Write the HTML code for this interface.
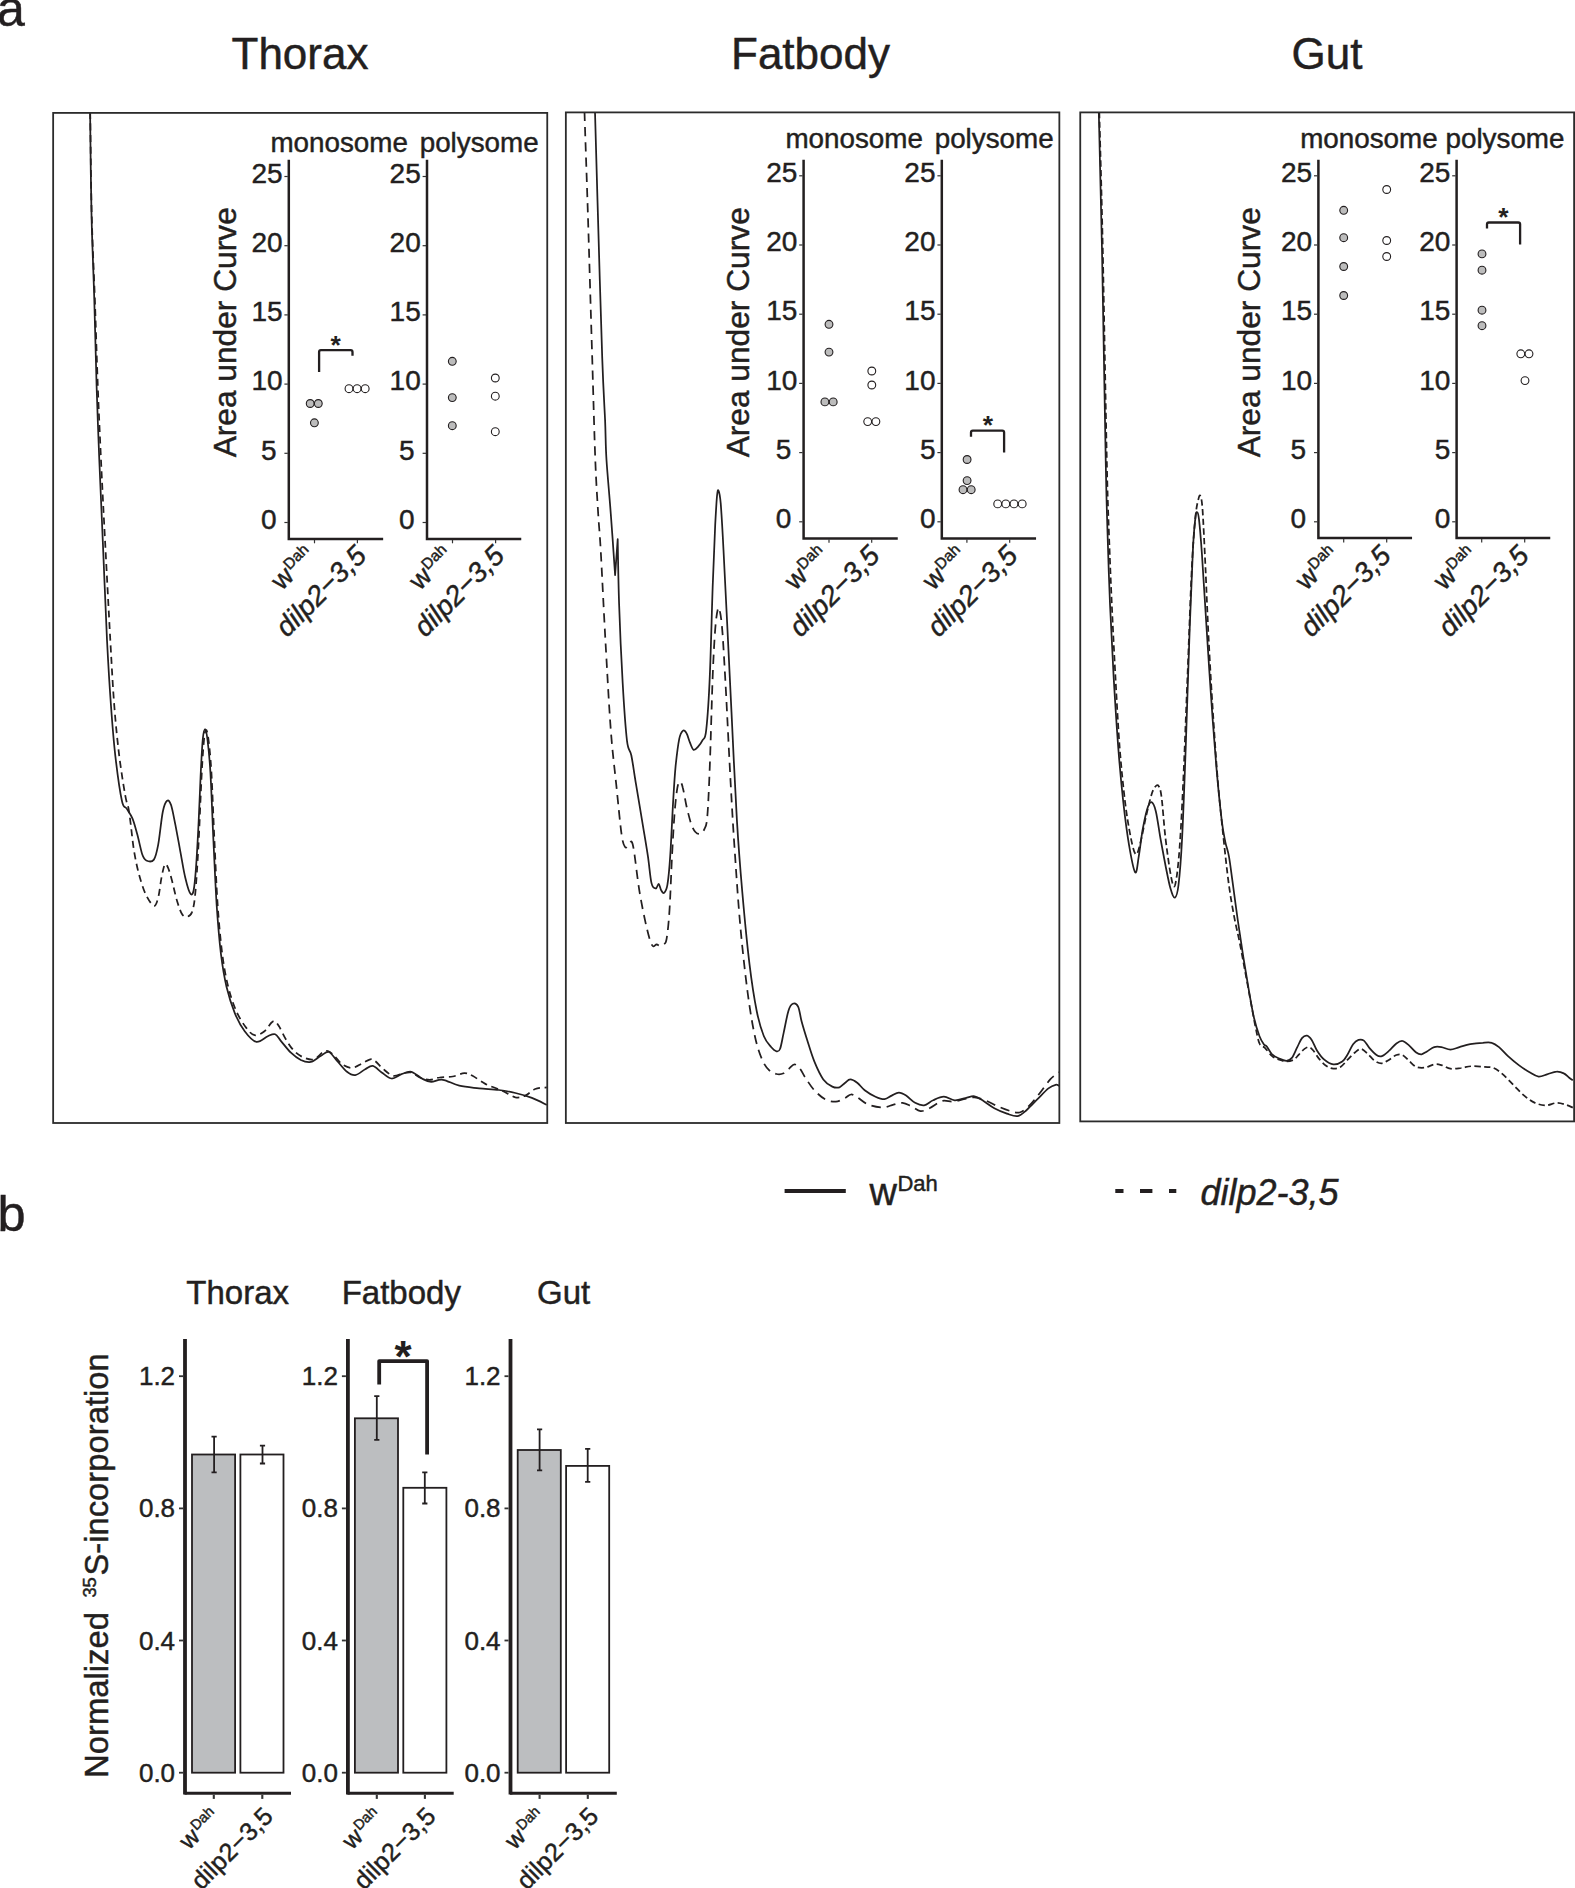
<!DOCTYPE html>
<html lang="en"><head><meta charset="utf-8"><title>Figure</title>
<style>
html,body{margin:0;padding:0;background:#fff;}
body{width:1575px;height:1888px;overflow:hidden;}
svg{display:block;}
text{font-family:"Liberation Sans",sans-serif;fill:#231f20;stroke:#231f20;stroke-width:0.45px;}
.it{font-style:italic;}
.b{font-weight:bold;stroke:none;}
.ax{stroke:#231f20;fill:none;stroke-linecap:square;}
.tk{stroke:#333;fill:none;stroke-width:1.2;}
.cv{stroke:#231f20;fill:none;stroke-width:1.75;stroke-linejoin:round;}
.ds0{stroke-dasharray:7 4.6;}.ds1{stroke-dasharray:9.2 6;}.ds2{stroke-dasharray:6.3 3.4;}
.box{stroke:#2b2b2b;fill:none;stroke-width:1.8;}
.dg{fill:#bcbcbc;stroke:#231f20;stroke-width:1.1;}
.dw{fill:#fff;stroke:#231f20;stroke-width:1.1;}
.br{stroke:#231f20;fill:none;stroke-linejoin:round;stroke-linecap:butt;}
</style></head><body>
<svg width="1575" height="1888" viewBox="0 0 1575 1888">
<rect x="0" y="0" width="1575" height="1888" fill="#fff"/>
<text x="-3" y="25.8" font-size="50">a</text>
<text x="-2.6" y="1230.6" font-size="50.5">b</text>
<text x="300" y="69" font-size="44" text-anchor="middle">Thorax</text>
<text x="810.5" y="69" font-size="44" text-anchor="middle">Fatbody</text>
<text x="1327" y="69" font-size="44" text-anchor="middle">Gut</text>
<clipPath id="cp0"><rect x="53.15" y="112.90" width="494.10" height="1010.10"/></clipPath>
<clipPath id="cp1"><rect x="565.85" y="112.40" width="493.50" height="1010.60"/></clipPath>
<clipPath id="cp2"><rect x="1080.25" y="112.40" width="493.85" height="1009.00"/></clipPath>
<path class="cv" clip-path="url(#cp0)" d="M90.1 112.0C90.3 129.1 90.8 183.0 91.5 214.4C92.2 245.8 93.5 271.6 94.3 300.2C95.1 328.8 95.8 359.8 96.6 386.0C97.4 412.2 98.2 431.4 99.2 457.6C100.2 483.8 101.6 513.0 102.9 543.4C104.2 573.8 105.7 612.9 107.0 640.0C108.4 667.1 109.6 686.8 111.0 706.0C112.4 725.3 113.5 739.8 115.3 755.6C117.1 771.3 120.0 792.0 121.9 800.8C123.8 809.6 124.7 805.5 126.5 808.4C128.3 811.3 130.6 813.9 132.4 818.3C134.3 822.7 135.7 828.7 137.4 834.8C139.0 840.8 140.9 850.3 142.3 854.6C143.8 858.9 144.4 859.7 146.3 860.5C148.2 861.4 151.9 862.2 153.9 859.6C155.9 856.9 156.7 852.7 158.2 844.7C159.7 836.7 161.3 819.0 162.8 811.7C164.3 804.4 165.7 801.9 167.1 800.8C168.5 799.7 169.7 801.1 171.1 805.1C172.4 809.1 173.8 817.2 175.4 824.9C176.9 832.6 178.7 842.5 180.3 851.3C182.0 860.1 183.5 870.6 185.3 877.7C187.0 884.9 189.3 893.1 190.9 894.2C192.4 895.3 193.4 893.7 194.5 884.3C195.7 875.0 196.8 856.8 197.8 838.1C198.9 819.4 200.0 788.6 200.8 772.1C201.6 755.6 202.1 746.2 202.8 739.0C203.5 731.9 204.3 729.1 205.1 729.1C205.8 729.1 206.5 731.9 207.4 739.0C208.3 746.2 209.4 755.6 210.4 772.1C211.4 788.6 212.3 816.1 213.3 838.1C214.4 860.1 215.4 884.9 216.6 904.1C217.9 923.4 219.3 939.9 220.9 953.7C222.6 967.4 224.2 976.8 226.5 986.7C228.9 996.6 231.8 1005.7 234.8 1013.1C237.8 1020.5 241.1 1026.5 244.7 1031.2C248.3 1036.0 252.4 1041.0 256.3 1041.8C260.1 1042.6 264.7 1037.5 267.8 1036.2C270.9 1034.9 272.9 1033.4 275.1 1034.2C277.3 1035.0 278.4 1038.1 281.0 1041.1C283.7 1044.2 287.6 1049.6 290.9 1052.7C294.2 1055.8 297.5 1058.4 300.8 1060.0C304.1 1061.5 307.4 1062.6 310.7 1061.9C314.0 1061.3 317.6 1057.7 320.6 1056.0C323.7 1054.3 326.1 1051.2 328.9 1052.0C331.6 1052.9 334.1 1057.7 337.1 1061.0C340.2 1064.3 344.0 1069.5 347.0 1071.8C350.1 1074.2 352.3 1075.6 355.3 1075.1C358.3 1074.7 362.3 1070.7 365.2 1069.2C368.1 1067.7 370.0 1065.4 372.8 1065.9C375.6 1066.5 378.6 1070.4 381.7 1072.5C384.9 1074.6 388.3 1078.2 391.6 1078.5C394.9 1078.7 398.2 1075.3 401.5 1074.2C404.8 1073.1 407.9 1071.0 411.4 1071.8C415.0 1072.7 419.7 1077.5 423.0 1079.1C426.3 1080.8 427.9 1081.6 431.2 1081.8C434.5 1081.9 438.1 1079.1 442.8 1079.8C447.5 1080.4 453.2 1084.3 459.3 1085.7C465.4 1087.1 472.5 1087.6 479.1 1088.4C485.7 1089.1 492.9 1089.2 498.9 1090.0C505.0 1090.8 509.9 1091.7 515.4 1093.0C520.9 1094.3 526.7 1095.9 531.9 1097.9C537.2 1099.9 544.3 1103.7 546.8 1104.9"/>
<path class="cv ds0" clip-path="url(#cp0)" d="M90.2 112.0C90.5 129.1 90.9 183.0 91.7 214.4C92.5 245.8 93.9 271.6 94.9 300.2C95.9 328.8 96.8 359.8 97.8 386.0C98.8 412.2 99.7 431.4 100.9 457.6C102.1 483.8 103.6 513.0 105.2 543.4C106.8 573.8 108.8 612.9 110.3 640.0C111.8 667.1 112.8 686.8 114.3 706.0C115.8 725.3 117.4 740.7 119.2 755.6C121.1 770.4 123.6 786.4 125.2 795.2C126.7 804.0 127.5 803.4 128.5 808.4C129.4 813.3 129.9 817.7 130.8 824.9C131.7 832.0 132.7 843.0 134.1 851.3C135.5 859.6 137.1 867.3 139.0 874.4C141.0 881.6 143.2 889.0 145.7 894.2C148.1 899.4 151.8 905.2 153.9 905.8C156.0 906.3 156.9 902.2 158.2 897.5C159.5 892.8 160.4 883.2 161.5 877.7C162.6 872.2 163.7 866.2 164.8 864.5C165.9 862.9 166.9 865.1 168.1 867.8C169.3 870.6 170.6 875.5 172.1 881.0C173.5 886.5 175.4 895.3 177.0 900.8C178.7 906.3 180.3 911.4 182.0 914.0C183.6 916.7 185.3 916.9 186.9 916.7C188.6 916.4 190.5 916.1 191.9 912.4C193.2 908.6 194.1 905.5 195.2 894.2C196.3 882.9 197.4 865.1 198.5 844.7C199.6 824.3 200.8 789.7 201.8 772.1C202.7 754.5 203.4 746.1 204.1 739.0C204.8 732.0 205.4 729.8 206.1 729.8C206.8 729.8 207.5 732.0 208.4 739.0C209.3 746.1 210.4 755.6 211.4 772.1C212.3 788.6 213.3 816.1 214.3 838.1C215.4 860.1 216.3 884.9 217.6 904.1C218.9 923.4 220.5 939.9 222.2 953.7C224.0 967.4 225.8 977.0 228.2 986.7C230.6 996.3 233.4 1004.6 236.4 1011.4C239.5 1018.3 243.3 1024.0 246.3 1027.9C249.4 1031.9 251.6 1034.6 254.6 1035.2C257.6 1035.8 261.8 1033.3 264.5 1031.2C267.3 1029.2 269.4 1024.6 271.1 1023.0C272.9 1021.3 273.7 1020.7 275.1 1021.3C276.4 1022.0 277.5 1023.9 279.4 1026.9C281.2 1030.0 283.5 1035.5 286.0 1039.5C288.4 1043.5 291.2 1048.0 294.2 1051.0C297.2 1054.1 300.8 1056.3 304.1 1057.7C307.4 1059.0 311.0 1060.1 314.0 1059.3C317.1 1058.5 320.0 1054.1 322.3 1052.7C324.6 1051.3 326.0 1050.6 327.9 1051.0C329.8 1051.5 331.5 1053.1 333.8 1055.3C336.2 1057.5 339.1 1062.2 342.1 1064.3C345.1 1066.3 348.7 1068.0 352.0 1067.9C355.3 1067.8 358.9 1065.0 361.9 1063.6C364.9 1062.2 368.0 1059.7 370.2 1059.3C372.4 1058.9 372.9 1059.3 375.1 1061.0C377.3 1062.6 380.3 1066.7 383.4 1069.2C386.4 1071.7 390.0 1075.1 393.3 1075.8C396.6 1076.5 400.1 1073.7 403.2 1073.2C406.2 1072.6 408.7 1071.8 411.4 1072.5C414.2 1073.2 416.7 1076.2 419.7 1077.5C422.7 1078.7 426.3 1079.8 429.6 1079.8C432.9 1079.8 435.6 1078.0 439.5 1077.5C443.3 1076.9 448.6 1077.2 452.7 1076.5C456.8 1075.8 461.0 1073.3 464.3 1073.2C467.6 1073.1 468.9 1074.0 472.5 1075.8C476.1 1077.6 480.8 1081.6 485.7 1084.1C490.7 1086.5 497.3 1088.5 502.2 1090.7C507.2 1092.9 511.6 1096.4 515.4 1097.3C519.3 1098.1 522.0 1097.0 525.3 1095.6C528.6 1094.2 531.7 1090.4 535.2 1089.0C538.8 1087.6 544.9 1087.6 546.8 1087.4"/>
<path class="cv" clip-path="url(#cp1)" d="M595.0 112.0C595.5 129.1 596.7 173.5 597.9 214.4C599.1 255.3 601.0 323.1 602.2 357.4C603.4 391.7 604.3 403.3 605.1 420.4C605.8 437.4 605.5 444.4 606.5 460.0C607.5 475.6 609.4 494.8 610.8 514.0C612.3 533.2 614.4 565.0 615.1 575.2L617.7 539.2C617.9 550.0 618.3 580.0 619.1 604.0C619.9 628.1 621.4 660.5 622.7 683.3C624.0 706.1 625.6 728.9 627.0 740.9C628.5 752.9 629.8 748.1 631.3 755.3C632.8 762.5 634.0 772.1 636.0 784.1C638.0 796.1 641.2 815.3 643.2 827.3C645.2 839.3 646.5 846.8 647.9 856.1C649.3 865.4 650.2 877.7 651.5 883.1C652.8 888.5 654.6 888.4 655.8 888.5C657.0 888.7 657.8 883.6 658.7 883.9C659.6 884.2 660.3 888.8 661.2 890.3C662.1 891.8 663.1 893.8 664.1 892.9C665.1 892.0 666.3 891.1 667.4 884.9C668.4 878.8 669.3 869.9 670.2 856.1C671.2 842.3 672.2 817.1 673.1 802.1C674.0 787.1 674.6 776.6 675.6 766.1C676.7 755.6 678.0 745.0 679.2 739.1C680.4 733.2 681.6 731.8 682.8 730.8C684.0 729.8 685.2 731.0 686.4 733.0C687.6 734.9 688.8 739.9 690.0 742.7C691.2 745.5 692.3 749.3 693.6 749.9C695.0 750.5 696.8 747.9 698.3 746.3C699.8 744.7 701.3 742.9 702.6 740.2C704.0 737.5 705.0 740.8 706.2 730.1C707.4 719.4 708.8 700.1 709.8 676.1C710.9 652.1 711.8 611.2 712.7 586.0C713.6 560.8 714.5 539.8 715.2 524.8C716.0 509.8 716.5 501.7 717.0 496.0C717.6 490.3 717.9 489.4 718.5 490.6C719.1 491.8 719.8 493.3 720.7 503.2C721.5 513.1 722.5 530.2 723.5 550.0C724.6 569.8 725.8 595.0 727.1 622.0C728.5 649.1 729.8 679.1 731.5 712.1C733.1 745.1 735.1 790.1 736.9 820.1C738.7 850.1 740.2 868.1 742.3 892.1C744.4 916.1 747.1 944.3 749.5 964.2C751.9 984.0 754.3 999.0 756.7 1011.0C759.1 1023.0 761.5 1030.2 763.9 1036.2C766.3 1042.2 769.0 1044.5 771.1 1047.0C773.2 1049.5 775.0 1051.0 776.5 1051.3C778.0 1051.6 778.9 1051.9 780.1 1048.8C781.3 1045.7 782.3 1038.9 783.7 1032.6C785.1 1026.3 786.9 1015.8 788.4 1011.0C789.9 1006.2 791.1 1004.5 792.7 1003.8C794.3 1003.0 796.6 1003.6 798.1 1006.6C799.6 1009.6 800.2 1016.3 801.7 1021.8C803.2 1027.3 805.0 1033.2 807.1 1039.8C809.2 1046.4 811.6 1054.8 814.3 1061.4C817.0 1068.0 820.3 1075.2 823.3 1079.4C826.3 1083.6 829.6 1085.3 832.3 1086.6C835.0 1087.9 837.4 1087.9 839.5 1087.3C841.6 1086.7 843.1 1084.3 844.9 1083.0C846.7 1081.7 848.2 1079.4 850.3 1079.4C852.4 1079.4 855.1 1081.2 857.5 1083.0C859.9 1084.8 861.7 1087.9 864.7 1090.2C867.7 1092.5 872.2 1095.2 875.5 1096.7C878.8 1098.2 881.8 1099.4 884.5 1099.2C887.2 1099.0 889.3 1096.7 891.7 1095.6C894.1 1094.5 896.5 1092.7 898.9 1092.7C901.3 1092.7 903.4 1093.9 906.1 1095.6C908.8 1097.3 912.1 1101.2 915.1 1102.8C918.1 1104.4 921.1 1105.7 924.1 1105.3C927.1 1104.9 929.8 1101.7 933.1 1100.3C936.4 1098.8 940.3 1096.7 943.9 1096.7C947.5 1096.7 951.1 1100.0 954.7 1100.3C958.3 1100.5 962.2 1098.8 965.5 1098.1C968.8 1097.5 971.5 1095.8 974.5 1096.3C977.5 1096.8 980.2 1099.0 983.5 1101.0C986.8 1103.0 990.4 1106.1 994.3 1108.2C998.2 1110.3 1003.0 1112.3 1006.9 1113.6C1010.8 1114.9 1014.4 1116.7 1017.7 1116.1C1021.0 1115.5 1023.4 1112.8 1026.7 1110.0C1030.0 1107.2 1033.9 1102.8 1037.5 1099.2C1041.1 1095.6 1045.4 1090.8 1048.4 1088.4C1051.4 1086.0 1053.8 1085.2 1055.6 1084.8C1057.4 1084.4 1058.6 1085.7 1059.2 1085.9"/>
<path class="cv ds1" clip-path="url(#cp1)" d="M584.5 112.0C585.0 129.1 586.6 173.5 587.9 214.4C589.2 255.3 590.9 316.5 592.2 357.4C593.4 398.4 594.3 433.9 595.3 460.0C596.3 486.1 597.3 499.0 598.2 514.0C599.1 529.0 599.5 529.0 600.7 550.0C601.9 571.0 603.7 610.0 605.4 640.1C607.1 670.1 609.0 706.1 610.8 730.1C612.6 754.1 614.4 766.7 616.2 784.1C618.0 801.5 620.1 824.0 621.6 834.5C623.1 845.0 624.0 845.4 625.2 847.1C626.4 848.8 627.7 845.5 628.8 844.6C629.9 843.7 630.8 840.4 631.7 841.7C632.6 843.0 632.9 844.1 634.2 852.5C635.5 860.9 637.5 879.5 639.6 892.1C641.7 904.7 644.7 919.3 646.8 928.1C648.9 937.0 650.6 942.7 652.2 945.4C653.9 948.1 655.2 944.2 656.6 944.3C657.9 944.5 659.0 946.1 660.2 946.1C661.4 946.1 662.7 945.5 663.8 944.3C664.8 943.1 665.7 944.6 666.6 938.9C667.6 933.2 668.6 923.9 669.5 910.1C670.4 896.3 671.2 872.3 672.0 856.1C672.9 839.9 673.7 824.3 674.6 812.9C675.5 801.5 676.5 792.9 677.4 787.7C678.3 782.5 679.1 781.6 680.0 781.6C680.9 781.6 681.8 783.7 682.8 787.7C683.9 791.7 685.1 799.7 686.4 805.7C687.8 811.7 689.6 819.3 691.1 823.7C692.6 828.1 693.9 830.3 695.4 832.0C696.9 833.7 698.6 834.3 700.1 833.8C701.6 833.3 703.2 832.0 704.4 829.1C705.6 826.2 706.4 827.0 707.3 816.5C708.2 806.0 708.9 789.5 709.8 766.1C710.7 742.7 711.8 698.9 712.7 676.1C713.6 653.3 714.4 640.4 715.2 629.3C716.1 618.1 717.0 612.4 717.8 609.4C718.6 606.4 719.2 607.3 719.9 611.2C720.7 615.1 721.4 619.0 722.5 632.9C723.5 646.7 724.7 668.9 726.1 694.1C727.4 719.3 729.2 757.1 730.7 784.1C732.2 811.1 733.4 832.1 735.1 856.1C736.7 880.1 738.4 905.3 740.5 928.1C742.6 951.0 745.3 975.0 747.7 993.0C750.1 1011.0 752.5 1025.1 754.9 1036.2C757.3 1047.3 759.7 1053.9 762.1 1059.6C764.5 1065.3 766.9 1068.0 769.3 1070.4C771.7 1072.8 774.1 1073.5 776.5 1074.0C778.9 1074.5 781.6 1074.2 783.7 1073.3C785.8 1072.4 787.3 1070.1 789.1 1068.6C790.9 1067.1 792.7 1064.3 794.5 1064.3C796.3 1064.3 798.1 1066.4 799.9 1068.6C801.7 1070.8 802.9 1074.0 805.3 1077.6C807.7 1081.2 811.0 1086.6 814.3 1090.2C817.6 1093.8 821.5 1097.3 825.1 1099.2C828.7 1101.1 832.6 1101.9 835.9 1101.7C839.2 1101.5 842.4 1099.3 844.9 1098.1C847.4 1096.9 848.9 1094.6 851.0 1094.5C853.1 1094.4 854.6 1095.7 857.5 1097.4C860.4 1099.1 864.1 1102.9 868.3 1104.6C872.5 1106.3 878.5 1107.5 882.7 1107.5C886.9 1107.5 890.2 1105.4 893.5 1104.6C896.8 1103.8 899.5 1102.5 902.5 1102.8C905.5 1103.1 908.5 1105.0 911.5 1106.4C914.5 1107.8 917.5 1110.8 920.5 1111.1C923.5 1111.4 925.9 1109.9 929.5 1108.2C933.1 1106.5 938.2 1102.1 942.1 1101.0C946.0 1099.9 949.3 1102.0 952.9 1101.7C956.5 1101.4 960.1 1099.9 963.7 1099.2C967.3 1098.5 970.9 1097.2 974.5 1097.4C978.1 1097.6 981.4 1098.8 985.3 1100.3C989.2 1101.8 993.7 1104.6 997.9 1106.4C1002.1 1108.2 1006.9 1110.1 1010.5 1111.1C1014.1 1112.1 1016.5 1113.3 1019.5 1112.5C1022.5 1111.7 1025.2 1109.5 1028.5 1106.4C1031.8 1103.3 1035.7 1098.3 1039.3 1093.8C1043.0 1089.3 1046.9 1083.0 1050.2 1079.4C1053.5 1075.8 1057.7 1073.4 1059.2 1072.2"/>
<path class="cv" clip-path="url(#cp2)" d="M1098.8 112.0C1099.3 135.0 1100.9 192.0 1102.0 250.0C1103.1 308.0 1104.8 413.0 1105.7 460.0C1106.6 507.0 1106.8 508.0 1107.5 532.0C1108.2 556.0 1109.0 580.1 1110.0 604.1C1111.0 628.1 1112.2 652.1 1113.6 676.1C1115.0 700.1 1116.7 727.1 1118.3 748.1C1119.9 769.1 1121.5 786.0 1123.3 802.2C1125.1 818.4 1127.1 833.7 1129.1 845.4C1131.1 857.1 1133.6 870.6 1135.2 872.4C1136.9 874.2 1137.6 863.1 1138.8 856.2C1140.0 849.3 1141.1 838.8 1142.4 831.0C1143.8 823.2 1145.6 814.2 1147.1 809.4C1148.6 804.6 1150.0 801.9 1151.4 802.2C1152.9 802.5 1154.3 805.2 1155.8 811.2C1157.3 817.2 1158.8 828.9 1160.4 838.2C1162.1 847.5 1164.2 858.6 1165.8 867.0C1167.5 875.4 1169.0 883.5 1170.5 888.6C1172.0 893.7 1173.5 898.2 1174.9 897.6C1176.2 897.0 1177.3 894.9 1178.5 885.0C1179.7 875.1 1180.9 861.0 1182.1 838.2C1183.3 815.4 1184.5 781.2 1185.7 748.1C1186.9 715.1 1188.1 673.1 1189.3 640.1C1190.5 607.1 1191.8 570.5 1192.9 550.0C1193.9 529.6 1194.7 523.9 1195.4 517.6C1196.1 511.3 1196.6 511.9 1197.2 512.2C1197.8 512.5 1198.2 512.5 1199.0 519.4C1199.8 526.3 1200.7 536.5 1201.9 553.6C1203.1 570.8 1204.7 598.7 1206.2 622.1C1207.7 645.5 1209.2 670.1 1210.9 694.1C1212.5 718.1 1214.5 745.1 1216.3 766.1C1218.1 787.2 1220.2 807.6 1221.7 820.2C1223.2 832.8 1224.1 835.8 1225.3 841.8C1226.5 847.8 1227.7 849.6 1228.9 856.2C1230.1 862.8 1231.0 870.6 1232.5 881.4C1234.0 892.2 1236.1 908.4 1237.9 921.0C1239.7 933.6 1241.5 945.6 1243.3 957.0C1245.1 968.4 1246.9 979.2 1248.7 989.4C1250.5 999.7 1252.3 1010.5 1254.1 1018.3C1255.9 1026.1 1257.9 1031.9 1259.5 1036.3C1261.1 1040.6 1262.6 1042.5 1263.8 1044.2C1265.0 1045.9 1265.3 1044.7 1266.7 1046.4C1268.1 1048.0 1270.0 1052.2 1272.1 1054.3C1274.2 1056.3 1276.9 1057.5 1279.3 1058.6C1281.7 1059.7 1284.4 1060.9 1286.5 1060.8C1288.6 1060.6 1290.1 1060.2 1291.9 1057.9C1293.7 1055.6 1295.6 1050.4 1297.3 1047.1C1299.0 1043.8 1300.4 1040.0 1302.0 1038.1C1303.6 1036.2 1305.4 1035.3 1307.0 1035.6C1308.7 1035.9 1310.0 1037.4 1311.7 1039.9C1313.4 1042.4 1315.0 1047.4 1317.1 1050.7C1319.2 1054.0 1321.6 1057.4 1324.3 1059.7C1327.0 1062.0 1330.3 1064.1 1333.3 1064.4C1336.3 1064.7 1339.9 1063.2 1342.3 1061.5C1344.7 1059.8 1345.9 1057.2 1347.7 1054.3C1349.5 1051.4 1351.3 1046.6 1353.1 1044.2C1354.9 1041.8 1356.7 1040.5 1358.5 1039.9C1360.3 1039.3 1362.1 1039.3 1363.9 1040.6C1365.7 1041.9 1367.2 1045.4 1369.3 1047.8C1371.4 1050.2 1374.4 1053.6 1376.5 1055.0C1378.6 1056.4 1379.8 1056.8 1381.9 1056.1C1384.1 1055.4 1386.8 1052.8 1389.2 1050.7C1391.6 1048.6 1394.1 1045.1 1396.4 1043.5C1398.6 1041.9 1400.4 1040.7 1402.5 1041.0C1404.6 1041.3 1406.7 1043.4 1409.0 1045.3C1411.2 1047.2 1414.1 1051.0 1416.2 1052.5C1418.3 1054.0 1419.8 1054.5 1421.6 1054.3C1423.4 1054.1 1424.9 1052.6 1427.0 1051.4C1429.1 1050.2 1431.8 1047.8 1434.2 1047.1C1436.6 1046.4 1438.7 1046.7 1441.4 1047.1C1444.1 1047.5 1447.4 1049.6 1450.4 1049.6C1453.4 1049.6 1456.1 1048.0 1459.4 1047.1C1462.7 1046.2 1466.3 1044.9 1470.2 1044.2C1474.1 1043.5 1479.2 1043.0 1482.8 1042.8C1486.4 1042.5 1489.1 1042.0 1491.8 1042.8C1494.5 1043.5 1496.3 1044.9 1499.0 1047.1C1501.7 1049.3 1504.7 1053.1 1508.0 1056.1C1511.3 1059.1 1515.2 1062.4 1518.8 1065.1C1522.4 1067.8 1526.3 1070.4 1529.6 1072.3C1532.9 1074.2 1535.6 1076.3 1538.6 1076.6C1541.6 1076.9 1544.6 1074.9 1547.6 1074.1C1550.6 1073.2 1553.9 1071.7 1556.6 1071.6C1559.3 1071.4 1561.7 1072.3 1563.8 1073.4C1565.9 1074.4 1567.7 1076.6 1569.2 1077.7C1570.7 1078.8 1572.2 1079.8 1572.8 1080.2"/>
<path class="cv ds2" clip-path="url(#cp2)" d="M1099.3 112.0C1099.9 135.0 1101.6 192.0 1102.8 250.0C1104.0 308.0 1105.8 413.0 1106.8 460.0C1107.8 507.0 1108.1 508.0 1108.9 532.0C1109.8 556.0 1110.7 580.1 1111.8 604.1C1112.9 628.1 1114.1 652.1 1115.4 676.1C1116.7 700.1 1118.1 727.1 1119.7 748.1C1121.4 769.1 1123.3 787.2 1125.1 802.2C1127.0 817.2 1129.1 829.5 1130.9 838.2C1132.7 846.9 1134.3 853.8 1136.0 854.4C1137.6 855.0 1139.0 848.1 1140.6 841.8C1142.3 835.5 1144.2 824.4 1146.0 816.6C1147.8 808.8 1149.9 799.9 1151.4 795.0C1152.9 790.0 1153.8 788.5 1155.0 787.0C1156.2 785.5 1157.6 784.3 1158.6 786.0C1159.7 787.6 1160.4 788.7 1161.5 796.8C1162.6 804.9 1163.8 822.9 1165.1 834.6C1166.4 846.3 1168.1 858.6 1169.4 867.0C1170.8 875.4 1172.0 882.6 1173.1 885.0C1174.1 887.4 1174.9 887.4 1175.9 881.4C1177.0 875.4 1178.3 865.2 1179.5 849.0C1180.7 832.8 1181.8 813.0 1183.1 784.2C1184.5 755.3 1186.0 712.1 1187.5 676.1C1188.9 640.1 1190.5 594.5 1191.8 568.1C1193.1 541.6 1194.3 529.0 1195.4 517.6C1196.5 506.2 1197.4 503.2 1198.3 499.6C1199.1 496.0 1199.7 494.2 1200.4 496.0C1201.1 497.8 1201.7 498.4 1202.6 510.4C1203.4 522.4 1204.4 545.2 1205.5 568.1C1206.5 590.9 1207.7 622.1 1209.1 647.3C1210.4 672.5 1211.9 696.5 1213.4 719.3C1214.9 742.1 1216.4 764.3 1218.1 784.2C1219.8 804.0 1221.7 821.4 1223.5 838.2C1225.3 855.0 1227.1 871.8 1228.9 885.0C1230.7 898.2 1232.5 907.8 1234.3 917.4C1236.1 927.0 1237.9 933.6 1239.7 942.6C1241.5 951.6 1243.3 961.8 1245.1 971.4C1246.9 981.0 1248.8 991.2 1250.5 1000.3C1252.2 1009.3 1253.7 1018.3 1255.2 1025.5C1256.7 1032.7 1257.9 1039.8 1259.5 1043.5C1261.1 1047.2 1262.8 1045.7 1264.9 1047.8C1267.0 1049.9 1269.7 1054.1 1272.1 1056.1C1274.5 1058.1 1276.9 1058.8 1279.3 1059.7C1281.7 1060.6 1284.1 1061.5 1286.5 1061.5C1288.9 1061.5 1291.6 1060.9 1293.7 1059.7C1295.8 1058.5 1297.3 1056.1 1299.1 1054.3C1300.9 1052.5 1302.8 1050.1 1304.5 1048.9C1306.2 1047.7 1307.7 1046.8 1309.2 1047.1C1310.7 1047.4 1311.9 1048.8 1313.5 1050.7C1315.1 1052.6 1316.8 1056.1 1318.9 1058.6C1321.0 1061.1 1323.7 1064.1 1326.1 1065.8C1328.5 1067.5 1330.9 1068.5 1333.3 1068.7C1335.7 1068.9 1338.1 1068.4 1340.5 1066.9C1342.9 1065.4 1345.3 1062.1 1347.7 1059.7C1350.1 1057.3 1352.7 1054.3 1354.9 1052.5C1357.2 1050.7 1359.0 1048.7 1361.1 1048.9C1363.2 1049.1 1365.3 1051.6 1367.5 1053.6C1369.8 1055.5 1372.3 1059.1 1374.7 1060.8C1377.1 1062.4 1379.5 1063.5 1381.9 1063.3C1384.4 1063.1 1386.8 1061.1 1389.2 1059.7C1391.6 1058.3 1394.1 1055.8 1396.4 1055.0C1398.6 1054.2 1400.4 1054.0 1402.5 1055.0C1404.6 1056.0 1406.7 1058.8 1409.0 1060.8C1411.2 1062.7 1413.5 1065.7 1416.2 1066.9C1418.9 1068.0 1422.2 1068.0 1425.2 1067.6C1428.2 1067.2 1431.5 1064.8 1434.2 1064.4C1436.9 1063.9 1438.7 1064.4 1441.4 1065.1C1444.1 1065.8 1447.1 1068.2 1450.4 1068.7C1453.7 1069.2 1457.6 1068.4 1461.2 1068.0C1464.8 1067.5 1468.1 1066.3 1472.0 1066.2C1475.9 1066.0 1481.0 1066.6 1484.6 1066.9C1488.2 1067.2 1490.6 1066.8 1493.6 1068.0C1496.6 1069.2 1499.3 1071.3 1502.6 1074.1C1505.9 1076.9 1509.8 1081.3 1513.4 1084.9C1517.0 1088.5 1520.6 1092.7 1524.2 1095.7C1527.8 1098.7 1531.4 1101.3 1535.0 1102.9C1538.6 1104.5 1542.2 1105.4 1545.8 1105.4C1549.4 1105.4 1553.3 1103.0 1556.6 1102.9C1559.9 1102.8 1562.9 1103.9 1565.6 1104.7C1568.3 1105.5 1571.6 1107.1 1572.8 1107.6"/>
<rect class="box" x="53.15" y="112.90" width="494.10" height="1010.10"/>
<rect class="box" x="565.85" y="112.40" width="493.50" height="1010.60"/>
<rect class="box" x="1080.25" y="112.40" width="493.85" height="1009.00"/>
<text x="339.2" y="152.0" font-size="27.8" text-anchor="middle">monosome</text>
<text x="479.2" y="152.0" font-size="27.8" text-anchor="middle">polysome</text>
<text transform="translate(235.9 332.3) rotate(-90)" font-size="31.7" text-anchor="middle">Area under Curve</text>
<path class="ax" stroke-width="2.5" d="M288.8 161.1V538.9H381.9"/>
<path class="tk" d="M284.4 522.5H287.8"/>
<text x="268.7" y="528.7" font-size="28.0" text-anchor="middle">0</text>
<path class="tk" d="M284.4 453.3H287.8"/>
<text x="268.7" y="459.5" font-size="28.0" text-anchor="middle">5</text>
<path class="tk" d="M284.4 384.1H287.8"/>
<text x="267.0" y="390.3" font-size="28.0" text-anchor="middle">10</text>
<path class="tk" d="M284.4 314.9H287.8"/>
<text x="267.0" y="321.1" font-size="28.0" text-anchor="middle">15</text>
<path class="tk" d="M284.4 245.7H287.8"/>
<text x="267.0" y="251.9" font-size="28.0" text-anchor="middle">20</text>
<path class="tk" d="M284.4 176.5H287.8"/>
<text x="267.0" y="182.7" font-size="28.0" text-anchor="middle">25</text>
<path class="tk" d="M314.5 539.9V543.3"/>
<path class="tk" d="M357.4 539.9V543.3"/>
<g transform="translate(316.2 556.9) rotate(-45)"><text text-anchor="end" font-size="26.7">w<tspan font-size="15.5" dy="-9.3" dx="1.0">Dah</tspan></text></g>
<g transform="translate(367.9 557.3) rotate(-45)"><text text-anchor="end" font-size="28.0" class="it">dilp2−3,5</text></g>
<path class="ax" stroke-width="2.5" d="M427.0 161.1V538.9H520.0"/>
<path class="tk" d="M422.6 522.5H426.0"/>
<text x="406.9" y="528.7" font-size="28.0" text-anchor="middle">0</text>
<path class="tk" d="M422.6 453.3H426.0"/>
<text x="406.9" y="459.5" font-size="28.0" text-anchor="middle">5</text>
<path class="tk" d="M422.6 384.1H426.0"/>
<text x="405.2" y="390.3" font-size="28.0" text-anchor="middle">10</text>
<path class="tk" d="M422.6 314.9H426.0"/>
<text x="405.2" y="321.1" font-size="28.0" text-anchor="middle">15</text>
<path class="tk" d="M422.6 245.7H426.0"/>
<text x="405.2" y="251.9" font-size="28.0" text-anchor="middle">20</text>
<path class="tk" d="M422.6 176.5H426.0"/>
<text x="405.2" y="182.7" font-size="28.0" text-anchor="middle">25</text>
<path class="tk" d="M452.5 539.9V543.3"/>
<path class="tk" d="M495.6 539.9V543.3"/>
<g transform="translate(454.2 556.9) rotate(-45)"><text text-anchor="end" font-size="26.7">w<tspan font-size="15.5" dy="-9.3" dx="1.0">Dah</tspan></text></g>
<g transform="translate(506.1 557.3) rotate(-45)"><text text-anchor="end" font-size="28.0" class="it">dilp2−3,5</text></g>
<circle class="dg" cx="310.2" cy="403.5" r="3.90"/>
<circle class="dg" cx="318.3" cy="403.5" r="3.90"/>
<circle class="dg" cx="314.4" cy="422.8" r="3.90"/>
<circle class="dw" cx="349.0" cy="388.7" r="3.90"/>
<circle class="dw" cx="357.1" cy="388.7" r="3.90"/>
<circle class="dw" cx="365.2" cy="388.7" r="3.90"/>
<circle class="dg" cx="452.3" cy="361.3" r="3.90"/>
<circle class="dg" cx="452.3" cy="397.6" r="3.90"/>
<circle class="dg" cx="452.3" cy="425.7" r="3.90"/>
<circle class="dw" cx="495.3" cy="378.0" r="3.90"/>
<circle class="dw" cx="495.3" cy="396.2" r="3.90"/>
<circle class="dw" cx="495.3" cy="431.7" r="3.90"/>
<path class="br" stroke-width="2.3" d="M319.1 371.9V352.0Q319.1 350.2 320.9 350.2H350.7Q352.5 350.2 352.5 352.0V355.7"/>
<text class="b" x="335.6" y="353.8" font-size="26.5" text-anchor="middle">*</text>
<text x="854.2" y="148.0" font-size="27.8" text-anchor="middle">monosome</text>
<text x="994.2" y="148.0" font-size="27.8" text-anchor="middle">polysome</text>
<text transform="translate(749.2 332.3) rotate(-90)" font-size="31.7" text-anchor="middle">Area under Curve</text>
<path class="ax" stroke-width="2.5" d="M803.6 161.1V538.4H896.5"/>
<path class="tk" d="M799.2 521.8H802.6"/>
<text x="783.5" y="528.0" font-size="28.0" text-anchor="middle">0</text>
<path class="tk" d="M799.2 452.6H802.6"/>
<text x="783.5" y="458.8" font-size="28.0" text-anchor="middle">5</text>
<path class="tk" d="M799.2 383.4H802.6"/>
<text x="781.8" y="389.6" font-size="28.0" text-anchor="middle">10</text>
<path class="tk" d="M799.2 314.2H802.6"/>
<text x="781.8" y="320.4" font-size="28.0" text-anchor="middle">15</text>
<path class="tk" d="M799.2 245.0H802.6"/>
<text x="781.8" y="251.2" font-size="28.0" text-anchor="middle">20</text>
<path class="tk" d="M799.2 175.8H802.6"/>
<text x="781.8" y="182.0" font-size="28.0" text-anchor="middle">25</text>
<path class="tk" d="M829.0 539.4V542.8"/>
<path class="tk" d="M871.7 539.4V542.8"/>
<g transform="translate(829.8 556.9) rotate(-45)"><text text-anchor="end" font-size="26.7">w<tspan font-size="15.5" dy="-9.3" dx="1.0">Dah</tspan></text></g>
<g transform="translate(881.3 557.3) rotate(-45)"><text text-anchor="end" font-size="28.0" class="it">dilp2−3,5</text></g>
<path class="ax" stroke-width="2.5" d="M941.8 161.1V538.4H1034.8"/>
<path class="tk" d="M937.4 521.8H940.8"/>
<text x="935.5" y="528.0" font-size="28.0" text-anchor="end">0</text>
<path class="tk" d="M937.4 452.6H940.8"/>
<text x="935.5" y="458.8" font-size="28.0" text-anchor="end">5</text>
<path class="tk" d="M937.4 383.4H940.8"/>
<text x="935.5" y="389.6" font-size="28.0" text-anchor="end">10</text>
<path class="tk" d="M937.4 314.2H940.8"/>
<text x="935.5" y="320.4" font-size="28.0" text-anchor="end">15</text>
<path class="tk" d="M937.4 245.0H940.8"/>
<text x="935.5" y="251.2" font-size="28.0" text-anchor="end">20</text>
<path class="tk" d="M937.4 175.8H940.8"/>
<text x="935.5" y="182.0" font-size="28.0" text-anchor="end">25</text>
<path class="tk" d="M966.9 539.4V542.8"/>
<path class="tk" d="M1009.7 539.4V542.8"/>
<g transform="translate(967.7 556.9) rotate(-45)"><text text-anchor="end" font-size="26.7">w<tspan font-size="15.5" dy="-9.3" dx="1.0">Dah</tspan></text></g>
<g transform="translate(1019.3 557.3) rotate(-45)"><text text-anchor="end" font-size="28.0" class="it">dilp2−3,5</text></g>
<circle class="dg" cx="829.0" cy="324.3" r="3.90"/>
<circle class="dg" cx="829.0" cy="352.1" r="3.90"/>
<circle class="dg" cx="824.9" cy="401.9" r="3.90"/>
<circle class="dg" cx="833.2" cy="401.9" r="3.90"/>
<circle class="dw" cx="871.8" cy="371.0" r="3.90"/>
<circle class="dw" cx="871.8" cy="385.0" r="3.90"/>
<circle class="dw" cx="867.7" cy="421.6" r="3.90"/>
<circle class="dw" cx="875.9" cy="421.6" r="3.90"/>
<circle class="dg" cx="967.1" cy="459.5" r="3.90"/>
<circle class="dg" cx="967.1" cy="480.6" r="3.90"/>
<circle class="dg" cx="963.0" cy="489.7" r="3.90"/>
<circle class="dg" cx="971.2" cy="489.7" r="3.90"/>
<circle class="dw" cx="997.7" cy="503.9" r="3.90"/>
<circle class="dw" cx="1005.8" cy="503.9" r="3.90"/>
<circle class="dw" cx="1014.0" cy="503.9" r="3.90"/>
<circle class="dw" cx="1022.2" cy="503.9" r="3.90"/>
<path class="br" stroke-width="2.3" d="M971.0 436.8V432.5Q971.0 430.7 972.8 430.7H1002.3Q1004.1 430.7 1004.1 432.5V452.6"/>
<text class="b" x="988.0" y="434.3" font-size="26.5" text-anchor="middle">*</text>
<text x="1368.9" y="148.0" font-size="27.8" text-anchor="middle">monosome</text>
<text x="1505.0" y="148.0" font-size="27.8" text-anchor="middle">polysome</text>
<text transform="translate(1260.2 332.3) rotate(-90)" font-size="31.7" text-anchor="middle">Area under Curve</text>
<path class="ax" stroke-width="2.5" d="M1318.4 161.1V538.1H1410.8"/>
<path class="tk" d="M1314.0 521.8H1317.4"/>
<text x="1298.3" y="528.0" font-size="28.0" text-anchor="middle">0</text>
<path class="tk" d="M1314.0 452.6H1317.4"/>
<text x="1298.3" y="458.8" font-size="28.0" text-anchor="middle">5</text>
<path class="tk" d="M1314.0 383.4H1317.4"/>
<text x="1296.6" y="389.6" font-size="28.0" text-anchor="middle">10</text>
<path class="tk" d="M1314.0 314.2H1317.4"/>
<text x="1296.6" y="320.4" font-size="28.0" text-anchor="middle">15</text>
<path class="tk" d="M1314.0 245.0H1317.4"/>
<text x="1296.6" y="251.2" font-size="28.0" text-anchor="middle">20</text>
<path class="tk" d="M1314.0 175.8H1317.4"/>
<text x="1296.6" y="182.0" font-size="28.0" text-anchor="middle">25</text>
<path class="tk" d="M1343.7 539.1V542.5"/>
<path class="tk" d="M1386.7 539.1V542.5"/>
<g transform="translate(1340.7 556.9) rotate(-45)"><text text-anchor="end" font-size="26.7">w<tspan font-size="15.5" dy="-9.3" dx="1.0">Dah</tspan></text></g>
<g transform="translate(1392.5 557.3) rotate(-45)"><text text-anchor="end" font-size="28.0" class="it">dilp2−3,5</text></g>
<path class="ax" stroke-width="2.5" d="M1456.6 161.1V538.1H1549.0"/>
<path class="tk" d="M1452.2 521.8H1455.6"/>
<text x="1450.3" y="528.0" font-size="28.0" text-anchor="end">0</text>
<path class="tk" d="M1452.2 452.6H1455.6"/>
<text x="1450.3" y="458.8" font-size="28.0" text-anchor="end">5</text>
<path class="tk" d="M1452.2 383.4H1455.6"/>
<text x="1450.3" y="389.6" font-size="28.0" text-anchor="end">10</text>
<path class="tk" d="M1452.2 314.2H1455.6"/>
<text x="1450.3" y="320.4" font-size="28.0" text-anchor="end">15</text>
<path class="tk" d="M1452.2 245.0H1455.6"/>
<text x="1450.3" y="251.2" font-size="28.0" text-anchor="end">20</text>
<path class="tk" d="M1452.2 175.8H1455.6"/>
<text x="1450.3" y="182.0" font-size="28.0" text-anchor="end">25</text>
<path class="tk" d="M1481.7 539.1V542.5"/>
<path class="tk" d="M1524.7 539.1V542.5"/>
<g transform="translate(1478.7 556.9) rotate(-45)"><text text-anchor="end" font-size="26.7">w<tspan font-size="15.5" dy="-9.3" dx="1.0">Dah</tspan></text></g>
<g transform="translate(1530.5 557.3) rotate(-45)"><text text-anchor="end" font-size="28.0" class="it">dilp2−3,5</text></g>
<circle class="dg" cx="1343.7" cy="210.3" r="3.90"/>
<circle class="dg" cx="1343.7" cy="237.7" r="3.90"/>
<circle class="dg" cx="1343.7" cy="266.5" r="3.90"/>
<circle class="dg" cx="1343.7" cy="295.5" r="3.90"/>
<circle class="dw" cx="1386.7" cy="189.5" r="3.90"/>
<circle class="dw" cx="1386.7" cy="240.5" r="3.90"/>
<circle class="dw" cx="1386.7" cy="256.5" r="3.90"/>
<circle class="dg" cx="1482.0" cy="253.9" r="3.90"/>
<circle class="dg" cx="1482.0" cy="270.2" r="3.90"/>
<circle class="dg" cx="1482.0" cy="310.2" r="3.90"/>
<circle class="dg" cx="1482.0" cy="325.7" r="3.90"/>
<circle class="dw" cx="1520.8" cy="353.8" r="3.90"/>
<circle class="dw" cx="1529.0" cy="353.8" r="3.90"/>
<circle class="dw" cx="1525.0" cy="380.6" r="3.90"/>
<path class="br" stroke-width="2.3" d="M1487.0 228.4V224.3Q1487.0 222.5 1488.8 222.5H1518.3Q1520.1 222.5 1520.1 224.3V244.4"/>
<text class="b" x="1503.5" y="226.2" font-size="26.5" text-anchor="middle">*</text>
<path d="M784.6 1191.1H845.8" stroke="#231f20" stroke-width="4" fill="none"/>
<text x="869.5" y="1204.7" font-size="38">w<tspan font-size="22" dy="-13.6" dx="0.5">Dah</tspan></text>
<path d="M1115.3 1191.1H1123.5M1140 1191.1H1152.4M1169 1191.1H1176.3" stroke="#231f20" stroke-width="4" fill="none"/>
<text class="it" x="1200.5" y="1204.7" font-size="36">dilp2-3,5</text>
<text x="237.7" y="1303.8" font-size="33" text-anchor="middle">Thorax</text>
<path class="ax" style="stroke-linecap:butt" stroke-width="3.8" d="M185.0 1339.0V1794.5"/>
<path class="ax" style="stroke-linecap:butt" stroke-width="3" d="M184.5 1793.3H291.0"/>
<path class="tk" style="stroke-width:1.8" d="M179.0 1772.7H183.0"/>
<text x="175.1" y="1781.7" font-size="26" text-anchor="end">0.0</text>
<path class="tk" style="stroke-width:1.8" d="M179.0 1640.5H183.0"/>
<text x="175.1" y="1649.5" font-size="26" text-anchor="end">0.4</text>
<path class="tk" style="stroke-width:1.8" d="M179.0 1508.4H183.0"/>
<text x="175.1" y="1517.4" font-size="26" text-anchor="end">0.8</text>
<path class="tk" style="stroke-width:1.8" d="M179.0 1376.2H183.0"/>
<text x="175.1" y="1385.2" font-size="26" text-anchor="end">1.2</text>
<path class="tk" style="stroke-width:2.1" d="M213.8 1794.8V1798.9"/>
<path class="tk" style="stroke-width:2.1" d="M262.3 1794.8V1798.9"/>
<text x="401.3" y="1303.8" font-size="33" text-anchor="middle">Fatbody</text>
<path class="ax" style="stroke-linecap:butt" stroke-width="3.8" d="M347.9 1339.0V1794.5"/>
<path class="ax" style="stroke-linecap:butt" stroke-width="3" d="M347.4 1793.3H453.7"/>
<path class="tk" style="stroke-width:1.8" d="M341.9 1772.7H345.9"/>
<text x="338.0" y="1781.7" font-size="26" text-anchor="end">0.0</text>
<path class="tk" style="stroke-width:1.8" d="M341.9 1640.5H345.9"/>
<text x="338.0" y="1649.5" font-size="26" text-anchor="end">0.4</text>
<path class="tk" style="stroke-width:1.8" d="M341.9 1508.4H345.9"/>
<text x="338.0" y="1517.4" font-size="26" text-anchor="end">0.8</text>
<path class="tk" style="stroke-width:1.8" d="M341.9 1376.2H345.9"/>
<text x="338.0" y="1385.2" font-size="26" text-anchor="end">1.2</text>
<path class="tk" style="stroke-width:2.1" d="M376.8 1794.8V1798.9"/>
<path class="tk" style="stroke-width:2.1" d="M424.9 1794.8V1798.9"/>
<text x="563.6" y="1303.8" font-size="33" text-anchor="middle">Gut</text>
<path class="ax" style="stroke-linecap:butt" stroke-width="3.8" d="M510.5 1339.0V1794.5"/>
<path class="ax" style="stroke-linecap:butt" stroke-width="3" d="M510.0 1793.3H616.8"/>
<path class="tk" style="stroke-width:1.8" d="M504.5 1772.7H508.5"/>
<text x="500.6" y="1781.7" font-size="26" text-anchor="end">0.0</text>
<path class="tk" style="stroke-width:1.8" d="M504.5 1640.5H508.5"/>
<text x="500.6" y="1649.5" font-size="26" text-anchor="end">0.4</text>
<path class="tk" style="stroke-width:1.8" d="M504.5 1508.4H508.5"/>
<text x="500.6" y="1517.4" font-size="26" text-anchor="end">0.8</text>
<path class="tk" style="stroke-width:1.8" d="M504.5 1376.2H508.5"/>
<text x="500.6" y="1385.2" font-size="26" text-anchor="end">1.2</text>
<path class="tk" style="stroke-width:2.1" d="M539.6 1794.8V1798.9"/>
<path class="tk" style="stroke-width:2.1" d="M587.8 1794.8V1798.9"/>
<rect x="192.0" y="1454.5" width="43.1" height="318.2" fill="#bcbec0" stroke="#231f20" stroke-width="1.8"/>
<rect x="240.4" y="1454.5" width="43.1" height="318.2" fill="#fff" stroke="#231f20" stroke-width="1.8"/>
<rect x="354.9" y="1418.3" width="43.1" height="354.4" fill="#bcbec0" stroke="#231f20" stroke-width="1.8"/>
<rect x="403.3" y="1487.8" width="43.1" height="284.9" fill="#fff" stroke="#231f20" stroke-width="1.8"/>
<rect x="517.7" y="1450.0" width="43.1" height="322.7" fill="#bcbec0" stroke="#231f20" stroke-width="1.8"/>
<rect x="566.1" y="1465.9" width="43.1" height="306.8" fill="#fff" stroke="#231f20" stroke-width="1.8"/>
<path d="M211.5 1436.6H216.7M214.1 1436.6V1472.4M211.5 1472.4H216.7" stroke="#231f20" stroke-width="1.8" fill="none"/>
<path d="M259.9 1445.6H265.1M262.5 1445.6V1463.5M259.9 1463.5H265.1" stroke="#231f20" stroke-width="1.8" fill="none"/>
<path d="M374.2 1396.2H379.4M376.8 1396.2V1439.8M374.2 1439.8H379.4" stroke="#231f20" stroke-width="1.8" fill="none"/>
<path d="M422.2 1472.3H427.4M424.8 1472.3V1503.5M422.2 1503.5H427.4" stroke="#231f20" stroke-width="1.8" fill="none"/>
<path d="M537.0 1429.3H542.2M539.6 1429.3V1470.4M537.0 1470.4H542.2" stroke="#231f20" stroke-width="1.8" fill="none"/>
<path d="M585.1 1448.8H590.3M587.7 1448.8V1481.8M585.1 1481.8H590.3" stroke="#231f20" stroke-width="1.8" fill="none"/>
<g transform="translate(221.0 1818.3) rotate(-45)"><text text-anchor="end" font-size="24.2">w<tspan font-size="14.5" dy="-8.5" dx="1.3">Dah</tspan></text></g>
<g transform="translate(274.5 1817.8) rotate(-45)"><text text-anchor="end" font-size="25.3">dilp2−3,5</text></g>
<g transform="translate(384.0 1818.3) rotate(-45)"><text text-anchor="end" font-size="24.2">w<tspan font-size="14.5" dy="-8.5" dx="1.3">Dah</tspan></text></g>
<g transform="translate(437.1 1817.8) rotate(-45)"><text text-anchor="end" font-size="25.3">dilp2−3,5</text></g>
<g transform="translate(546.8 1818.3) rotate(-45)"><text text-anchor="end" font-size="24.2">w<tspan font-size="14.5" dy="-8.5" dx="1.3">Dah</tspan></text></g>
<g transform="translate(600.0 1817.8) rotate(-45)"><text text-anchor="end" font-size="25.3">dilp2−3,5</text></g>
<path class="br" stroke-linejoin="miter" stroke-width="3.8" d="M379.2 1384.6V1361.1H427.1V1454.6"/>
<text class="b" x="403" y="1372" font-size="44" text-anchor="middle">*</text>
<text transform="translate(107.5 1777.9) rotate(-90)" font-size="32.8"><tspan x="0">Normalized</tspan><tspan x="180.3" font-size="18.3" dy="-11.5">35</tspan><tspan x="202.3" dy="11.5">S-incorporation</tspan></text>
</svg></body></html>
